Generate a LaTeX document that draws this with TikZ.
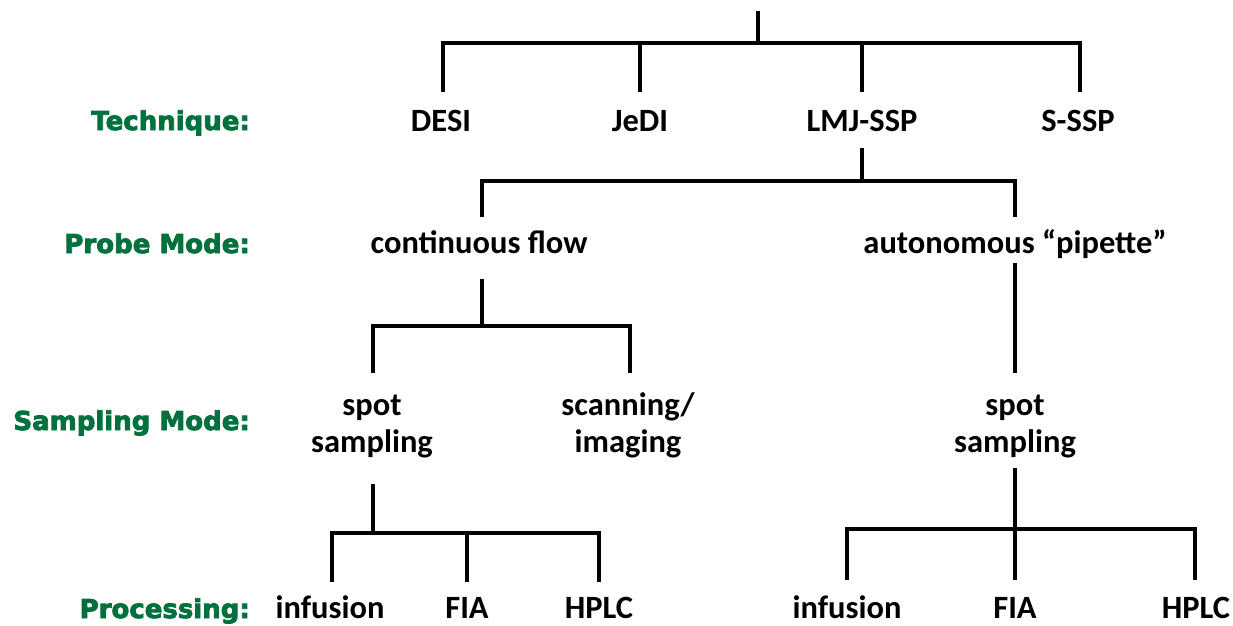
\documentclass[tikz,border=0pt]{standalone}
\usepackage{fontspec}
\setmainfont{Carlito}
\newfontfamily\labelfont[BoldFont={DejaVu Sans Bold}, BoldFeatures={FakeBold=3}]{DejaVu Sans}
\definecolor{lvlgreen}{RGB}{0,112,60}
\tikzset{
  conn/.style={line width=3.2pt, line cap=rect},
  item/.style={font=\fontsize{32.5}{37}\selectfont\bfseries, align=center, inner sep=0pt, anchor=base},
  level/.style={font=\labelfont\fontsize{26}{30}\selectfont\bfseries, text=lvlgreen, inner sep=0pt, anchor=base east},
}
\begin{document}
\begin{tikzpicture}[x=1pt,y=-1pt]
\useasboundingbox (0,0) rectangle (1233,625);

% level labels
\node[level] (lt) at (250,130) {Technique:};
\node[level] (lp) at (250,253) {Probe Mode:};
\node[level] (ls) at (250,430) {Sampling Mode:};
\node[level] (lr) at (250,618) {Processing:};

% technique row
\node[item] (desi) at (441,131) {DESI};
\node[item] (jedi) at (640,131) {JeDI};
\node[item] (lmj)  at (862,131) {LMJ-SSP};
\node[item] (sssp) at (1078,131) {S-SSP};

% probe mode row
\node[item] (cont) at (479,253) {continuous flow};
\node[item] (auto) at (1015,253) {autonomous “pipette”};

% sampling mode row (two lines, anchored on the lower line)
\node[item] (spotL) at (372,452) {spot\\sampling};
\node[item] (scan)  at (628,452) {scanning/\\imaging};
\node[item] (spotR) at (1015,452) {spot\\sampling};

% processing row
\node[item] (infL) at (330,618) {infusion};
\node[item] (fiaL) at (467,618) {FIA};
\node[item] (hplL) at (599,618) {HPLC};
\node[item] (infR) at (847,618) {infusion};
\node[item] (fiaR) at (1015,618) {FIA};
\node[item] (hplR) at (1196,618) {HPLC};

% line end points
\coordinate (root) at (758,13);
\coordinate (b1) at (758,43);
\coordinate (desiT) at (443,90);
\coordinate (jediT) at (640,90);
\coordinate (lmjT) at (862,90);
\coordinate (ssspT) at (1080,90);

\coordinate (lmjB) at (862,150);
\coordinate (b2) at (862,181);
\coordinate (contT) at (482,215);
\coordinate (autoT) at (1015,215);

\coordinate (contB) at (482,281);
\coordinate (b3) at (482,326);
\coordinate (spotLT) at (373,371);
\coordinate (scanT) at (630,371);

\coordinate (autoB) at (1015,265);
\coordinate (spotRT) at (1015,371);

\coordinate (spotLB) at (373,486);
\coordinate (b4) at (373,533);
\coordinate (infLT) at (332,580);
\coordinate (fiaLT) at (467,580);
\coordinate (hplLT) at (599,580);

\coordinate (spotRB) at (1015,470);
\coordinate (b5) at (1015,529);
\coordinate (infRT) at (847,578);
\coordinate (fiaRT) at (1015,578);
\coordinate (hplRT) at (1195,578);

% top split into techniques
\draw[conn] (root) -- (b1);
\draw[conn] (desiT) |- (ssspT|-b1) -- (ssspT);
\draw[conn] (jediT) -- (jediT|-b1);
\draw[conn] (lmjT) -- (lmjT|-b1);

% LMJ-SSP into probe modes
\draw[conn] (lmjB) -- (b2);
\draw[conn] (contT) |- (autoT|-b2) -- (autoT);

% continuous flow into sampling modes
\draw[conn] (contB) -- (b3);
\draw[conn] (spotLT) |- (scanT|-b3) -- (scanT);

% autonomous pipette into spot sampling
\draw[conn] (autoB) -- (spotRT);

% left spot sampling into processing
\draw[conn] (spotLB) -- (b4);
\draw[conn] (infLT) |- (hplLT|-b4) -- (hplLT);
\draw[conn] (fiaLT) -- (fiaLT|-b4);

% right spot sampling into processing
\draw[conn] (spotRB) -- (fiaRT);
\draw[conn] (infRT) |- (hplRT|-b5) -- (hplRT);
\end{tikzpicture}
\end{document}
